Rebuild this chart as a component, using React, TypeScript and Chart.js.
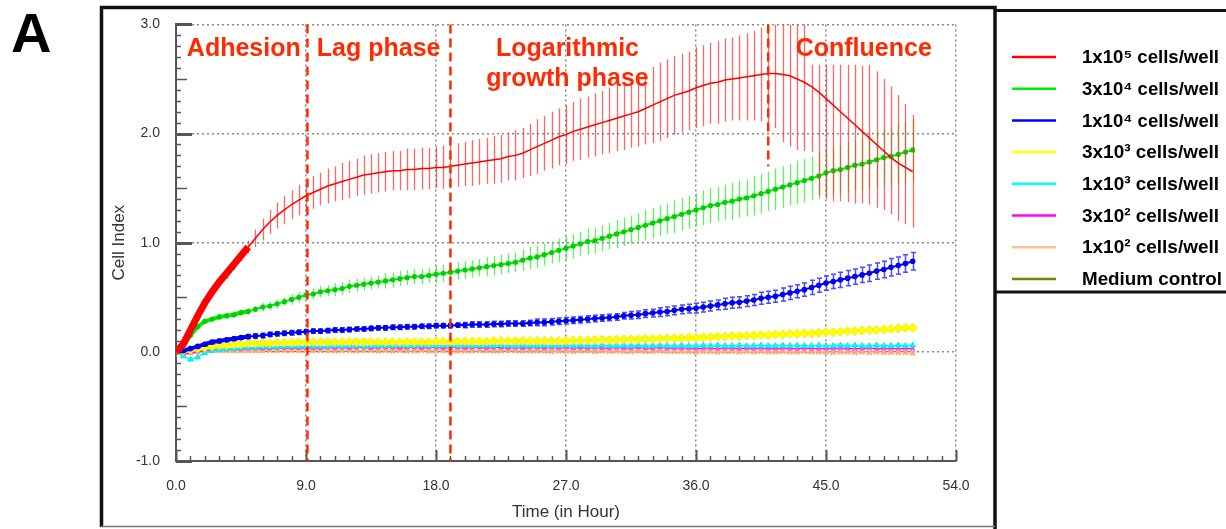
import { useEffect, useRef } from 'react';
import { Chart, registerables } from 'chart.js';

Chart.register(...registerables);

// ---------------- data ----------------
const timeH = [
  0, 0.5, 1, 1.5, 2, 2.5, 3, 3.5, 4, 4.5,
  5, 5.5, 6, 6.5, 7, 7.5, 8, 8.5, 9, 9.5,
  10, 10.5, 11, 11.5, 12, 12.5, 13, 13.5, 14, 14.5,
  15, 15.5, 16, 16.5, 17, 17.5, 18, 18.5, 19, 19.5,
  20, 20.5, 21, 21.5, 22, 22.5, 23, 23.5, 24, 24.5,
  25, 25.5, 26, 26.5, 27, 27.5, 28, 28.5, 29, 29.5,
  30, 30.5, 31, 31.5, 32, 32.5, 33, 33.5, 34, 34.5,
  35, 35.5, 36, 36.5, 37, 37.5, 38, 38.5, 39, 39.5,
  40, 40.5, 41, 41.5, 42, 42.5, 43, 43.5, 44, 44.5,
  45, 45.5, 46, 46.5, 47, 47.5, 48, 48.5, 49, 49.5,
  50, 50.5, 51,
];

const ci1e5 = [
  0.00, 0.07, 0.20, 0.33, 0.45, 0.55, 0.64, 0.72, 0.80, 0.88,
  0.96, 1.04, 1.12, 1.19, 1.25, 1.30, 1.35, 1.39, 1.43, 1.46,
  1.49, 1.52, 1.54, 1.56, 1.58, 1.60, 1.62, 1.63, 1.64, 1.65,
  1.66, 1.66, 1.67, 1.67, 1.68, 1.68, 1.69, 1.69, 1.70, 1.71,
  1.72, 1.73, 1.74, 1.75, 1.76, 1.77, 1.79, 1.80, 1.82, 1.85,
  1.88, 1.91, 1.94, 1.97, 1.99, 2.02, 2.04, 2.06, 2.08, 2.10,
  2.12, 2.14, 2.16, 2.18, 2.20, 2.23, 2.26, 2.29, 2.32, 2.35,
  2.37, 2.39, 2.42, 2.44, 2.46, 2.47, 2.49, 2.50, 2.51, 2.52,
  2.53, 2.54, 2.55, 2.55, 2.54, 2.53, 2.50, 2.47, 2.43, 2.38,
  2.32, 2.26, 2.20, 2.14, 2.08, 2.02, 1.96, 1.90, 1.84, 1.78,
  1.73, 1.69, 1.65,
];
const ci1e5ErrUp = [
  0.04, 0.04, 0.05, 0.05, 0.05, 0.05, 0.05, 0.05, 0.05, 0.05,
  0.06, 0.08, 0.10, 0.11, 0.12, 0.13, 0.13, 0.14, 0.14, 0.15,
  0.15, 0.16, 0.16, 0.17, 0.17, 0.17, 0.18, 0.18, 0.18, 0.18,
  0.18, 0.18, 0.19, 0.19, 0.19, 0.19, 0.19, 0.20, 0.20, 0.20,
  0.20, 0.21, 0.21, 0.21, 0.22, 0.22, 0.22, 0.23, 0.23, 0.24,
  0.25, 0.25, 0.26, 0.26, 0.27, 0.27, 0.28, 0.28, 0.29, 0.29,
  0.30, 0.30, 0.31, 0.31, 0.32, 0.33, 0.35, 0.36, 0.36, 0.36,
  0.36, 0.36, 0.37, 0.37, 0.37, 0.38, 0.38, 0.38, 0.39, 0.40,
  0.41, 0.43, 0.46, 0.50, 0.55, 0.55, 0.55, 0.55, 0.20, 0.25,
  0.31, 0.37, 0.43, 0.49, 0.55, 0.60, 0.67, 0.67, 0.66, 0.65,
  0.62, 0.58, 0.52,
];
const ci1e5ErrDown = [
  0.04, 0.04, 0.05, 0.05, 0.05, 0.05, 0.05, 0.05, 0.05, 0.05,
  0.06, 0.08, 0.10, 0.11, 0.12, 0.13, 0.13, 0.14, 0.14, 0.15,
  0.15, 0.16, 0.16, 0.17, 0.17, 0.17, 0.18, 0.18, 0.18, 0.18,
  0.18, 0.18, 0.19, 0.19, 0.19, 0.19, 0.19, 0.20, 0.20, 0.20,
  0.20, 0.21, 0.21, 0.21, 0.22, 0.22, 0.22, 0.23, 0.23, 0.24,
  0.25, 0.25, 0.26, 0.26, 0.27, 0.27, 0.28, 0.28, 0.29, 0.29,
  0.30, 0.30, 0.31, 0.31, 0.32, 0.33, 0.35, 0.36, 0.36, 0.36,
  0.36, 0.36, 0.37, 0.37, 0.37, 0.38, 0.38, 0.38, 0.39, 0.40,
  0.41, 0.43, 0.46, 0.50, 0.62, 0.65, 0.65, 0.63, 0.60, 0.95,
  0.92, 0.88, 0.82, 0.77, 0.72, 0.66, 0.61, 0.58, 0.54, 0.52,
  0.53, 0.52, 0.51,
];

const ci3e4 = [
  0.00, 0.05, 0.15, 0.23, 0.28, 0.30, 0.32, 0.33, 0.34, 0.36,
  0.37, 0.39, 0.41, 0.42, 0.44, 0.46, 0.48, 0.50, 0.52, 0.53,
  0.55, 0.56, 0.57, 0.58, 0.60, 0.61, 0.62, 0.63, 0.64, 0.65,
  0.66, 0.67, 0.68, 0.69, 0.69, 0.70, 0.71, 0.72, 0.73, 0.74,
  0.75, 0.76, 0.77, 0.78, 0.79, 0.80, 0.81, 0.82, 0.84, 0.86,
  0.87, 0.89, 0.91, 0.93, 0.95, 0.97, 0.99, 1.01, 1.02, 1.04,
  1.06, 1.08, 1.10, 1.12, 1.14, 1.16, 1.18, 1.20, 1.22, 1.24,
  1.26, 1.28, 1.30, 1.32, 1.34, 1.35, 1.37, 1.38, 1.40, 1.41,
  1.43, 1.45, 1.47, 1.49, 1.51, 1.53, 1.55, 1.57, 1.59, 1.61,
  1.64, 1.66, 1.67, 1.69, 1.71, 1.72, 1.74, 1.76, 1.78, 1.79,
  1.81, 1.83, 1.85,
];
const ci3e4Err = [
  0.01, 0.02, 0.02, 0.02, 0.02, 0.02, 0.03, 0.03, 0.03, 0.03,
  0.03, 0.03, 0.04, 0.04, 0.04, 0.04, 0.05, 0.05, 0.05, 0.05,
  0.05, 0.05, 0.06, 0.06, 0.06, 0.06, 0.06, 0.06, 0.06, 0.07,
  0.07, 0.07, 0.07, 0.07, 0.07, 0.07, 0.08, 0.08, 0.08, 0.08,
  0.08, 0.08, 0.08, 0.09, 0.09, 0.09, 0.09, 0.09, 0.10, 0.10,
  0.10, 0.10, 0.10, 0.11, 0.11, 0.11, 0.11, 0.12, 0.12, 0.12,
  0.12, 0.13, 0.13, 0.13, 0.13, 0.14, 0.14, 0.14, 0.14, 0.15,
  0.15, 0.15, 0.15, 0.16, 0.16, 0.16, 0.16, 0.17, 0.17, 0.17,
  0.18, 0.18, 0.18, 0.19, 0.19, 0.19, 0.20, 0.20, 0.20, 0.21,
  0.21, 0.22, 0.22, 0.23, 0.23, 0.24, 0.25, 0.25, 0.26, 0.27,
  0.27, 0.28, 0.28,
];

const ci1e4 = [
  0.00, 0.01, 0.03, 0.05, 0.07, 0.09, 0.10, 0.11, 0.12, 0.13,
  0.14, 0.145, 0.15, 0.16, 0.165, 0.17, 0.175, 0.18, 0.185, 0.19,
  0.19, 0.195, 0.20, 0.20, 0.205, 0.21, 0.21, 0.215, 0.22, 0.22,
  0.225, 0.225, 0.23, 0.23, 0.235, 0.235, 0.24, 0.24, 0.24, 0.245,
  0.245, 0.25, 0.25, 0.25, 0.255, 0.255, 0.26, 0.26, 0.26, 0.265,
  0.27, 0.27, 0.275, 0.28, 0.285, 0.29, 0.295, 0.30, 0.305, 0.31,
  0.315, 0.32, 0.33, 0.335, 0.34, 0.35, 0.355, 0.365, 0.37, 0.38,
  0.39, 0.395, 0.40, 0.41, 0.42, 0.43, 0.44, 0.45, 0.455, 0.465,
  0.475, 0.49, 0.50, 0.51, 0.525, 0.54, 0.555, 0.57, 0.59, 0.61,
  0.63, 0.645, 0.66, 0.675, 0.69, 0.705, 0.72, 0.74, 0.755, 0.775,
  0.79, 0.81, 0.83,
];
const ci1e4Err = [
  0.01, 0.01, 0.01, 0.01, 0.015, 0.015, 0.015, 0.015, 0.015, 0.015,
  0.02, 0.02, 0.02, 0.02, 0.02, 0.02, 0.02, 0.02, 0.02, 0.02,
  0.02, 0.02, 0.02, 0.02, 0.02, 0.02, 0.02, 0.02, 0.02, 0.02,
  0.02, 0.02, 0.02, 0.02, 0.02, 0.02, 0.02, 0.02, 0.02, 0.02,
  0.025, 0.025, 0.025, 0.025, 0.025, 0.025, 0.025, 0.025, 0.025, 0.025,
  0.03, 0.03, 0.03, 0.03, 0.03, 0.03, 0.03, 0.03, 0.03, 0.03,
  0.03, 0.03, 0.03, 0.035, 0.035, 0.035, 0.035, 0.04, 0.04, 0.04,
  0.04, 0.04, 0.045, 0.045, 0.045, 0.045, 0.05, 0.05, 0.05, 0.05,
  0.05, 0.055, 0.055, 0.055, 0.06, 0.06, 0.06, 0.06, 0.065, 0.065,
  0.065, 0.065, 0.07, 0.07, 0.07, 0.07, 0.075, 0.075, 0.075, 0.08,
  0.08, 0.08, 0.08,
];

const ci3e3 = [
  0.00, 0.01, 0.02, 0.03, 0.04, 0.05, 0.06, 0.06, 0.07, 0.07,
  0.08, 0.08, 0.08, 0.08, 0.085, 0.085, 0.085, 0.09, 0.09, 0.09,
  0.09, 0.09, 0.09, 0.09, 0.09, 0.09, 0.09, 0.09, 0.09, 0.09,
  0.09, 0.09, 0.09, 0.09, 0.09, 0.09, 0.095, 0.095, 0.095, 0.095,
  0.095, 0.095, 0.095, 0.095, 0.10, 0.10, 0.10, 0.10, 0.10, 0.10,
  0.10, 0.10, 0.10, 0.10, 0.10, 0.105, 0.105, 0.105, 0.11, 0.11,
  0.11, 0.11, 0.115, 0.115, 0.115, 0.12, 0.12, 0.12, 0.125, 0.125,
  0.125, 0.13, 0.13, 0.135, 0.135, 0.14, 0.14, 0.145, 0.145, 0.15,
  0.15, 0.155, 0.155, 0.16, 0.16, 0.165, 0.165, 0.17, 0.17, 0.175,
  0.18, 0.18, 0.185, 0.19, 0.19, 0.195, 0.20, 0.20, 0.205, 0.21,
  0.215, 0.22, 0.22,
];

const ci1e3 = [
  0.00, -0.04, -0.07, -0.05, -0.01, 0.01, 0.02, 0.025, 0.03, 0.035,
  0.04, 0.04, 0.045, 0.045, 0.045, 0.05, 0.05, 0.05, 0.05, 0.05,
  0.05, 0.05, 0.055, 0.05, 0.055, 0.055, 0.05, 0.055, 0.055, 0.055,
  0.055, 0.06, 0.055, 0.055, 0.06, 0.055, 0.055, 0.06, 0.055, 0.055,
  0.06, 0.055, 0.055, 0.06, 0.055, 0.06, 0.055, 0.055, 0.06, 0.055,
  0.055, 0.06, 0.055, 0.055, 0.06, 0.055, 0.06, 0.055, 0.055, 0.06,
  0.055, 0.055, 0.06, 0.055, 0.06, 0.055, 0.055, 0.06, 0.055, 0.055,
  0.06, 0.055, 0.055, 0.06, 0.055, 0.06, 0.055, 0.055, 0.06, 0.055,
  0.055, 0.06, 0.055, 0.055, 0.06, 0.055, 0.06, 0.055, 0.055, 0.06,
  0.055, 0.055, 0.06, 0.055, 0.06, 0.055, 0.055, 0.06, 0.055, 0.055,
  0.06, 0.055, 0.06,
];

const ci3e2 = [
  0.00, -0.02, -0.01, 0.00, 0.01, 0.015, 0.02, 0.02, 0.025, 0.025,
  0.03, 0.03, 0.03, 0.03, 0.035, 0.035, 0.035, 0.035, 0.035, 0.035,
  0.035, 0.04, 0.035, 0.04, 0.035, 0.04, 0.04, 0.035, 0.04, 0.04,
  0.04, 0.035, 0.04, 0.04, 0.035, 0.04, 0.04, 0.035, 0.04, 0.04,
  0.035, 0.04, 0.04, 0.035, 0.04, 0.04, 0.035, 0.04, 0.035, 0.04,
  0.04, 0.035, 0.04, 0.035, 0.04, 0.035, 0.04, 0.035, 0.04, 0.035,
  0.035, 0.04, 0.035, 0.035, 0.04, 0.035, 0.035, 0.04, 0.035, 0.035,
  0.035, 0.035, 0.03, 0.035, 0.035, 0.03, 0.035, 0.035, 0.03, 0.035,
  0.03, 0.035, 0.03, 0.03, 0.035, 0.03, 0.03, 0.035, 0.03, 0.03,
  0.03, 0.03, 0.035, 0.03, 0.03, 0.03, 0.035, 0.03, 0.03, 0.03,
  0.03, 0.03, 0.03,
];

const ci1e2 = [
  0.00, -0.01, 0.00, 0.01, 0.01, 0.015, 0.015, 0.015, 0.015, 0.015,
  0.015, 0.015, 0.015, 0.015, 0.015, 0.015, 0.015, 0.015, 0.015, 0.015,
  0.015, 0.015, 0.01, 0.015, 0.015, 0.01, 0.015, 0.015, 0.01, 0.015,
  0.01, 0.015, 0.01, 0.01, 0.015, 0.01, 0.01, 0.015, 0.01, 0.01,
  0.01, 0.01, 0.015, 0.01, 0.01, 0.01, 0.015, 0.01, 0.01, 0.01,
  0.01, 0.01, 0.005, 0.01, 0.01, 0.005, 0.01, 0.01, 0.005, 0.01,
  0.005, 0.01, 0.005, 0.005, 0.01, 0.005, 0.005, 0.01, 0.005, 0.005,
  0.005, 0.005, 0.00, 0.005, 0.005, 0.00, 0.005, 0.005, 0.00, 0.005,
  0.00, 0.005, 0.00, 0.00, 0.005, 0.00, 0.00, 0.005, 0.00, 0.00,
  0.00, -0.005, 0.00, 0.00, -0.005, 0.00, -0.005, 0.00, -0.005, -0.005,
  -0.005, -0.005, -0.01,
];

const ciMedium = [
  0.00, 0.00, 0.005, 0.005, 0.005, 0.005, 0.005, 0.005, 0.005, 0.005,
  0.005, 0.005, 0.005, 0.005, 0.005, 0.005, 0.005, 0.005, 0.005, 0.005,
  0.005, 0.005, 0.005, 0.005, 0.005, 0.005, 0.005, 0.005, 0.005, 0.005,
  0.005, 0.005, 0.005, 0.005, 0.005, 0.005, 0.005, 0.005, 0.005, 0.005,
  0.005, 0.005, 0.005, 0.005, 0.00, 0.005, 0.005, 0.005, 0.00, 0.005,
  0.005, 0.00, 0.005, 0.005, 0.00, 0.005, 0.00, 0.005, 0.00, 0.005,
  0.00, 0.005, 0.00, 0.00, 0.005, 0.00, 0.00, 0.005, 0.00, 0.00,
  0.00, 0.00, 0.00, 0.005, 0.00, 0.00, 0.00, 0.00, 0.005, 0.00,
  0.00, 0.00, 0.00, 0.00, 0.00, 0.00, 0.00, 0.00, 0.00, 0.00,
  0.00, 0.00, 0.00, 0.00, 0.00, 0.00, 0.00, 0.00, 0.00, 0.00,
  0.00, 0.00, 0.00,
];

const seriesLabels = [
  '1x10⁵ cells/well',
  '3x10⁴ cells/well',
  '1x10⁴ cells/well',
  '3x10³ cells/well',
  '1x10³ cells/well',
  '3x10² cells/well',
  '1x10² cells/well',
  'Medium control',
];
const seriesColors = ['#ff0000', '#00ee00', '#0000ff', '#ffff00', '#00ffff', '#ff00ff', '#ffc090', '#808000'];

const yTickValues = [-1, 0, 1, 2, 3];
const xTickValues = [0, 9, 18, 27, 36, 45, 54];

// growth phase boundaries (hours) and where each dashed line starts (cell index)
const phaseBoundaryHours = [9.1, 19.0, 41.0];
const phaseBoundaryLow = [-1, -1, 1.7];
const phaseTexts = ['Adhesion', 'Lag phase', 'Logarithmic', 'growth phase', 'Confluence'];

const PHASE_RED = '#ff2a00';
const FONT = '"Liberation Sans", Arial, Helvetica, sans-serif';

const pts = (ys: number[]) => timeH.map((t, i) => ({ x: t, y: ys[i] }));

// ---------------- plugins ----------------
const errorBarPlugin = {
  id: 'errorBars',
  beforeDatasetDraw(chart: any, args: any) {
    const ds = chart.data.datasets[args.index];
    if (!ds.errUp) return;
    const { ctx, chartArea: ca, scales } = chart;
    const x = scales.x;
    const y = scales.y;
    ctx.save();
    ctx.beginPath();
    ctx.rect(ca.left, ca.top, ca.right - ca.left, ca.bottom - ca.top);
    ctx.clip();
    ctx.strokeStyle = ds.errColor;
    ctx.lineWidth = ds.errWidth || 1.2;
    ds.data.forEach((p: any, i: number) => {
      const px = Math.round(x.getPixelForValue(p.x)) + 0.5;
      const yTop = y.getPixelForValue(p.y + ds.errUp[i]);
      const yBot = y.getPixelForValue(p.y - ds.errDown[i]);
      ctx.beginPath();
      ctx.moveTo(px, yTop);
      ctx.lineTo(px, yBot);
      if (ds.errCap) {
        ctx.moveTo(px - ds.errCap, yTop);
        ctx.lineTo(px + ds.errCap, yTop);
        ctx.moveTo(px - ds.errCap, yBot);
        ctx.lineTo(px + ds.errCap, yBot);
      }
      ctx.stroke();
    });
    ctx.restore();
  },
};

const framePlugin = {
  id: 'frames',
  beforeDraw(chart: any) {
    const { ctx, width, height } = chart;
    ctx.save();
    ctx.fillStyle = '#ffffff';
    ctx.fillRect(0, 0, width, height);
    // panel letter
    ctx.fillStyle = '#000';
    ctx.font = `bold 56px ${FONT}`;
    ctx.textBaseline = 'alphabetic';
    ctx.textAlign = 'left';
    ctx.fillText('A', 11, 52);
    // chart frame
    ctx.strokeStyle = '#111';
    ctx.lineWidth = 3.5;
    ctx.beginPath();
    ctx.moveTo(101.5, 527);
    ctx.lineTo(101.5, 7.5);
    ctx.lineTo(995, 7.5);
    ctx.lineTo(995, 529);
    ctx.stroke();
    ctx.strokeStyle = '#777';
    ctx.lineWidth = 1.5;
    ctx.beginPath();
    ctx.moveTo(101, 526.5);
    ctx.lineTo(995, 526.5);
    ctx.stroke();
    // legend box
    ctx.strokeStyle = '#111';
    ctx.lineWidth = 3;
    ctx.beginPath();
    ctx.moveTo(995, 10.5);
    ctx.lineTo(1226, 10.5);
    ctx.moveTo(995, 292);
    ctx.lineTo(1226, 292);
    ctx.stroke();
    ctx.restore();
  },
  beforeDatasetsDraw(chart: any) {
    // inward tick marks
    const { ctx, chartArea: ca, scales } = chart;
    const x = scales.x;
    const y = scales.y;
    ctx.save();
    ctx.strokeStyle = '#555';
    for (let k = Math.round(y.min * 10); k <= Math.round(y.max * 10); k++) {
      const py = Math.round(y.getPixelForValue(k / 10)) + 0.5;
      const major = k % 10 === 0;
      const mid = !major && k % 5 === 0;
      ctx.lineWidth = major ? 3 : 1.5;
      ctx.beginPath();
      ctx.moveTo(ca.left, py);
      ctx.lineTo(ca.left + (major ? 16 : mid ? 11 : 5), py);
      ctx.stroke();
    }
    for (let h = x.min; h <= x.max; h++) {
      const px = Math.round(x.getPixelForValue(h)) + 0.5;
      const major = h % 9 === 0;
      ctx.lineWidth = major ? 2 : 1.5;
      ctx.beginPath();
      ctx.moveTo(px, ca.bottom);
      ctx.lineTo(px, ca.bottom - (major ? 11 : 5));
      ctx.stroke();
    }
    ctx.restore();
  },
  afterDatasetsDraw(chart: any) {
    const { ctx, scales } = chart;
    const x = scales.x;
    const y = scales.y;
    ctx.save();
    // phase boundaries
    ctx.strokeStyle = PHASE_RED;
    ctx.lineWidth = 2.5;
    ctx.setLineDash([9, 5]);
    phaseBoundaryHours.forEach((h, i) => {
      const px = x.getPixelForValue(h);
      ctx.beginPath();
      ctx.moveTo(px, y.getPixelForValue(y.max));
      ctx.lineTo(px, y.getPixelForValue(phaseBoundaryLow[i]));
      ctx.stroke();
    });
    ctx.setLineDash([]);
    // phase names
    ctx.fillStyle = PHASE_RED;
    ctx.font = `bold 25px ${FONT}`;
    ctx.textBaseline = 'alphabetic';
    const row1 = y.getPixelForValue(2.707);
    const row2 = y.getPixelForValue(2.44);
    ctx.textAlign = 'left';
    ctx.fillText(phaseTexts[0], x.getPixelForValue(0.75), row1);
    ctx.fillText(phaseTexts[1], x.getPixelForValue(9.75), row1);
    ctx.textAlign = 'center';
    ctx.fillText(phaseTexts[2], x.getPixelForValue(27.1), row1);
    ctx.fillText(phaseTexts[3], x.getPixelForValue(27.1), row2);
    ctx.textAlign = 'left';
    ctx.fillText(phaseTexts[4], x.getPixelForValue(42.9), row1, 145);
    ctx.restore();
  },
  afterDraw(chart: any) {
    // legend
    const { ctx } = chart;
    ctx.save();
    ctx.font = `bold 19px ${FONT}`;
    ctx.textBaseline = 'middle';
    ctx.textAlign = 'left';
    chart.data.datasets.forEach((ds: any, i: number) => {
      const ry = 57 + i * 31.7;
      ctx.strokeStyle = ds.borderColor;
      ctx.lineWidth = 2.5;
      ctx.beginPath();
      ctx.moveTo(1012, ry);
      ctx.lineTo(1056, ry);
      ctx.stroke();
      ctx.fillStyle = '#000';
      ctx.fillText(ds.label, 1082, ry + 1, i === 7 ? 140 : 137);
    });
    ctx.restore();
  },
};

export default function App() {
  const canvasRef = useRef<HTMLCanvasElement | null>(null);

  useEffect(() => {
    const canvas = canvasRef.current;
    if (!canvas) return;

    const datasets: any[] = [
      {
        label: seriesLabels[0], data: pts(ci1e5), borderColor: seriesColors[0], backgroundColor: seriesColors[0],
        borderWidth: 1.5, pointRadius: 0,
        segment: { borderWidth: (c: any) => (c.p0.parsed.x < 4.9 ? 7 : 1.5) },
        errUp: ci1e5ErrUp, errDown: ci1e5ErrDown, errColor: 'rgba(255,45,45,0.72)', errWidth: 1.3,
      },
      {
        label: seriesLabels[1], data: pts(ci3e4), borderColor: seriesColors[1], backgroundColor: '#00dd00',
        borderWidth: 2, pointRadius: 1.6, pointBackgroundColor: '#00d000', pointBorderColor: '#00d000',
        segment: { borderWidth: (c: any) => (c.p0.parsed.x < 4.9 ? 4 : 2) },
        errUp: ci3e4Err, errDown: ci3e4Err, errColor: 'rgba(40,240,40,0.75)', errWidth: 1.3,
      },
      {
        label: seriesLabels[2], data: pts(ci1e4), borderColor: seriesColors[2], backgroundColor: seriesColors[2],
        borderWidth: 2, pointRadius: 1.8, pointBackgroundColor: '#0000ee', pointBorderColor: '#0000ee',
        segment: { borderWidth: (c: any) => (c.p0.parsed.x < 4.9 ? 4 : 2) },
        errUp: ci1e4Err, errDown: ci1e4Err, errColor: 'rgba(30,30,255,0.8)', errWidth: 1.5, errCap: 2.5,
      },
      {
        label: seriesLabels[3], data: pts(ci3e3), borderColor: seriesColors[3], backgroundColor: seriesColors[3],
        borderWidth: 2, pointStyle: 'rectRot', pointRadius: 4.5, pointBorderWidth: 1,
        pointBackgroundColor: '#ffff00', pointBorderColor: '#f0f000',
      },
      {
        label: seriesLabels[4], data: pts(ci1e3), borderColor: seriesColors[4], backgroundColor: seriesColors[4],
        borderWidth: 1.5, pointStyle: 'triangle', pointRadius: 3.2, pointBorderWidth: 1,
        pointBackgroundColor: '#00ffff', pointBorderColor: '#00e8e8',
      },
      {
        label: seriesLabels[5], data: pts(ci3e2), borderColor: seriesColors[5], backgroundColor: seriesColors[5],
        borderWidth: 1.2, pointStyle: 'triangle', pointRadius: 2.4, pointBorderWidth: 1,
        pointBackgroundColor: '#ff40ff', pointBorderColor: '#ff40ff',
      },
      {
        label: seriesLabels[6], data: pts(ci1e2), borderColor: seriesColors[6], backgroundColor: seriesColors[6],
        borderWidth: 1.5, pointStyle: 'crossRot', pointRadius: 3.5, pointBorderWidth: 2,
        pointBackgroundColor: '#f8a878', pointBorderColor: '#f8a878',
        segment: { borderWidth: (c: any) => (c.p0.parsed.x < 6 ? 5 : 1.5) },
      },
      {
        label: seriesLabels[7], data: pts(ciMedium), borderColor: seriesColors[7], backgroundColor: seriesColors[7],
        borderWidth: 1.5, pointRadius: 0,
      },
    ];

    Chart.defaults.font.family = FONT;

    const chart = new Chart(canvas, {
      type: 'line',
      data: { datasets },
      plugins: [framePlugin, errorBarPlugin],
      options: {
        animation: false,
        responsive: false,
        devicePixelRatio: 1,
        events: [],
        layout: { padding: { left: 100, top: 24, right: 270, bottom: 0 } },
        elements: { line: { tension: 0 } },
        plugins: { legend: { display: false }, tooltip: { enabled: false } },
        scales: {
          x: {
            type: 'linear',
            min: xTickValues[0],
            max: xTickValues[xTickValues.length - 1],
            afterFit: (s: any) => { s.height = 68; },
            afterBuildTicks: (s: any) => { s.ticks = xTickValues.map((v) => ({ value: v })); },
            ticks: {
              color: '#333',
              font: { size: 14 },
              padding: 17,
              maxRotation: 0,
              callback: (v: any) => Number(v).toFixed(1),
            },
            grid: { color: '#8a8a8a', lineWidth: 1.5, drawTicks: false },
            border: { display: true, color: '#555', width: 2, dash: [2, 3] },
            title: {
              display: true, text: 'Time (in Hour)', color: '#333',
              font: { size: 17 }, padding: { top: 0, bottom: 6 },
            },
          },
          y: {
            type: 'linear',
            min: yTickValues[0],
            max: yTickValues[yTickValues.length - 1],
            afterFit: (s: any) => { s.width = 76; },
            afterBuildTicks: (s: any) => { s.ticks = yTickValues.map((v) => ({ value: v })); },
            ticks: {
              color: '#333',
              font: { size: 14 },
              padding: 16,
              callback: (v: any) => Number(v).toFixed(1),
            },
            grid: { color: '#8a8a8a', lineWidth: 1.5, drawTicks: false },
            border: { display: true, color: '#555', width: 2, dash: [2, 3] },
            title: {
              display: true, text: 'Cell Index', color: '#333',
              font: { size: 17 }, padding: { top: 9, bottom: 0 },
            },
          },
        },
      } as any,
    });

    return () => chart.destroy();
  }, []);

  return (
    <div style={{ position: 'absolute', left: 0, top: 0, width: 1226, height: 529, background: '#fff' }}>
      <canvas ref={canvasRef} width={1226} height={529} style={{ display: 'block' }} />
    </div>
  );
}
